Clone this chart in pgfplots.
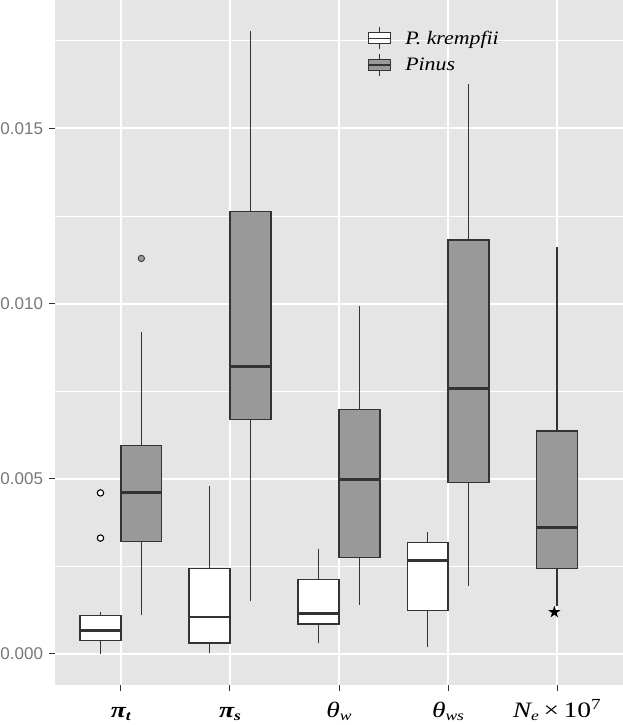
\documentclass[border=0pt]{standalone}
\usepackage{fontspec}
\setmainfont{Liberation Serif}
\newfontfamily\sansf{Liberation Sans}
\usepackage{pgfplots}
\pgfplotsset{compat=1.18}
\usepgfplotslibrary{statistics}

\definecolor{panel}{HTML}{E5E5E5}
\definecolor{boxline}{HTML}{333333}
\definecolor{pinus}{HTML}{999999}
\definecolor{ticktext}{HTML}{777777}

\newcommand\lsub[1]{\raisebox{-0.18em}{\fontsize{14}{14}\selectfont #1}}
% whisker line: position, quartile, whisker end
\newcommand\wh[3]{\addplot[boxline, line width=1.5pt, forget plot] coordinates {(#1,#2) (#1,#3)};}

% filled five-point star
\pgfdeclareplotmark{fstar}{%
  \pgfpathmoveto{\pgfqpoint{0pt}{6.4pt}}%
  \pgfpathlineto{\pgfqpoint{1.44pt}{1.982pt}}%
  \pgfpathlineto{\pgfqpoint{6.087pt}{1.978pt}}%
  \pgfpathlineto{\pgfqpoint{2.33pt}{-0.757pt}}%
  \pgfpathlineto{\pgfqpoint{3.762pt}{-5.178pt}}%
  \pgfpathlineto{\pgfqpoint{0pt}{-2.45pt}}%
  \pgfpathlineto{\pgfqpoint{-3.762pt}{-5.178pt}}%
  \pgfpathlineto{\pgfqpoint{-2.33pt}{-0.757pt}}%
  \pgfpathlineto{\pgfqpoint{-6.087pt}{1.978pt}}%
  \pgfpathlineto{\pgfqpoint{-1.44pt}{1.982pt}}%
  \pgfpathclose
  \pgfusepathqfill
}

\pgfplotsset{
  bx/.style={draw=boxline, line width=1.3pt, forget plot,
    boxplot/draw direction=y,
    boxplot/box extend=0.375, boxplot/whisker extend=0,
    boxplot/every box/.style={line width=1.3pt},
    boxplot/every whisker/.style={line width=1.5pt},
    boxplot/every median/.style={line width=2.6pt},
    mark=*, mark size=3.2pt},
  kr/.style={bx, fill=white, mark options={fill=white, draw=black, line width=1.1pt}},
  pi/.style={bx, fill=pinus, mark options={fill=pinus, draw=boxline, line width=0.8pt}},
}

% values are given in units of 10^-3
\begin{document}
\begin{tikzpicture}
\begin{axis}[
  scale only axis, width=567pt, height=685pt,
  xmin=-0.6, xmax=4.6, ymin=-0.889, ymax=18.669,
  axis background/.style={fill=panel},
  axis line style={draw=none},
  xtick={0,1,2,3,4},
  xticklabels={
    {\bfseries\itshape π\lsub{t}},
    {\bfseries\itshape π\lsub{s}},
    {\itshape θ\lsub{w}},
    {\itshape θ\lsub{ws}},
    {\itshape N\lsub{e}\upshape\,×\,10\textsuperscript{7}}},
  ytick={0,5,10,15},
  yticklabels={0.000,0.005,0.010,0.015},
  minor ytick={2.5,7.5,12.5,17.5},
  xmajorgrids, ymajorgrids, yminorgrids,
  major grid style={white, line width=2pt},
  minor grid style={white, line width=1pt},
  tick pos=left, tick align=outside,
  major tick length=6pt, minor tick length=0pt,
  tick style={boxline, line width=1pt},
  yticklabel style={font=\sansf\fontsize{17}{17}\selectfont, text=ticktext,
    xshift=-3pt},
  xticklabel style={font=\fontsize{22}{22}\selectfont, text=black,
    anchor=base, yshift=-26pt, xscale=1.25},
  legend cell align=left,
  legend style={at={(0.551,0.962)}, anchor=north west, draw=none, fill=none,
    inner sep=0pt, row sep=3pt,
    font=\itshape\fontsize{19}{19}\selectfont,
    /tikz/every odd column/.append style={column sep=12pt}},
]
\addlegendimage{legend image code/.code={
  \draw[boxline, line width=1.2pt] (11pt,-11.3pt) -- (11pt,11.3pt);
  \draw[boxline, line width=1.2pt, fill=white] (0pt,-5.7pt) rectangle (22pt,5.7pt);
  \draw[boxline, line width=1.2pt] (0pt,0pt) -- (22pt,0pt);}}
\addlegendentry{\scalebox{1.15}[1]{P. krempfii}}
\addlegendimage{legend image code/.code={
  \draw[boxline, line width=1.2pt] (11pt,-11.3pt) -- (11pt,11.3pt);
  \draw[boxline, line width=1.2pt, fill=pinus] (0pt,-5.7pt) rectangle (22pt,5.7pt);
  \draw[boxline, line width=1.2pt] (0pt,0pt) -- (22pt,0pt);}}
\addlegendentry{\scalebox{1.15}[1]{Pinus}}

% whiskers
\wh{-0.1875}{0}{1.196}
\wh{0.1875}{1.11}{9.18}
\wh{0.8125}{0.02}{4.79}
\wh{1.1875}{1.50}{17.78}
\wh{1.8125}{0.31}{3.00}
\wh{2.1875}{1.40}{9.93}
\wh{2.8125}{0.21}{3.49}
\wh{3.1875}{1.95}{16.28}
\wh{4}{1.38}{11.62}

% pi_t
\addplot[kr, boxplot prepared={draw position=-0.1875,
  lower whisker=0, lower quartile=0.381, median=0.668,
  upper quartile=1.098, upper whisker=1.196}]
  table[row sep=\\, y index=0] {data\\ 4.596\\ 3.306\\};
\addplot[pi, boxplot prepared={draw position=0.1875,
  lower whisker=1.11, lower quartile=3.20, median=4.60,
  upper quartile=5.94, upper whisker=9.18}]
  table[row sep=\\, y index=0] {data\\ 11.29\\};
% pi_s
\addplot[kr, boxplot prepared={draw position=0.8125,
  lower whisker=0.02, lower quartile=0.31, median=1.05,
  upper quartile=2.43, upper whisker=4.79}] coordinates {};
\addplot[pi, boxplot prepared={draw position=1.1875,
  lower whisker=1.50, lower quartile=6.70, median=8.20,
  upper quartile=12.63, upper whisker=17.78}] coordinates {};
% theta_w
\addplot[kr, boxplot prepared={draw position=1.8125,
  lower whisker=0.31, lower quartile=0.85, median=1.16,
  upper quartile=2.12, upper whisker=3.00}] coordinates {};
\addplot[pi, boxplot prepared={draw position=2.1875,
  lower whisker=1.40, lower quartile=2.76, median=4.98,
  upper quartile=6.97, upper whisker=9.93}] coordinates {};
% theta_ws
\addplot[kr, boxplot prepared={draw position=2.8125,
  lower whisker=0.21, lower quartile=1.23, median=2.66,
  upper quartile=3.18, upper whisker=3.49}] coordinates {};
\addplot[pi, boxplot prepared={draw position=3.1875,
  lower whisker=1.95, lower quartile=4.90, median=7.58,
  upper quartile=11.82, upper whisker=16.28}] coordinates {};
% N_e x 10^7
\addplot[pi, boxplot prepared={draw position=4,
  lower whisker=1.38, lower quartile=2.44, median=3.60,
  upper quartile=6.36, upper whisker=11.62}] coordinates {};
\addplot[only marks, mark=fstar, black, forget plot] coordinates {(3.975,1.19)};
\end{axis}
\pgfresetboundingbox
\path[use as bounding box] (-55.5pt,-40pt) rectangle (567pt,685pt);
\end{tikzpicture}
\end{document}
